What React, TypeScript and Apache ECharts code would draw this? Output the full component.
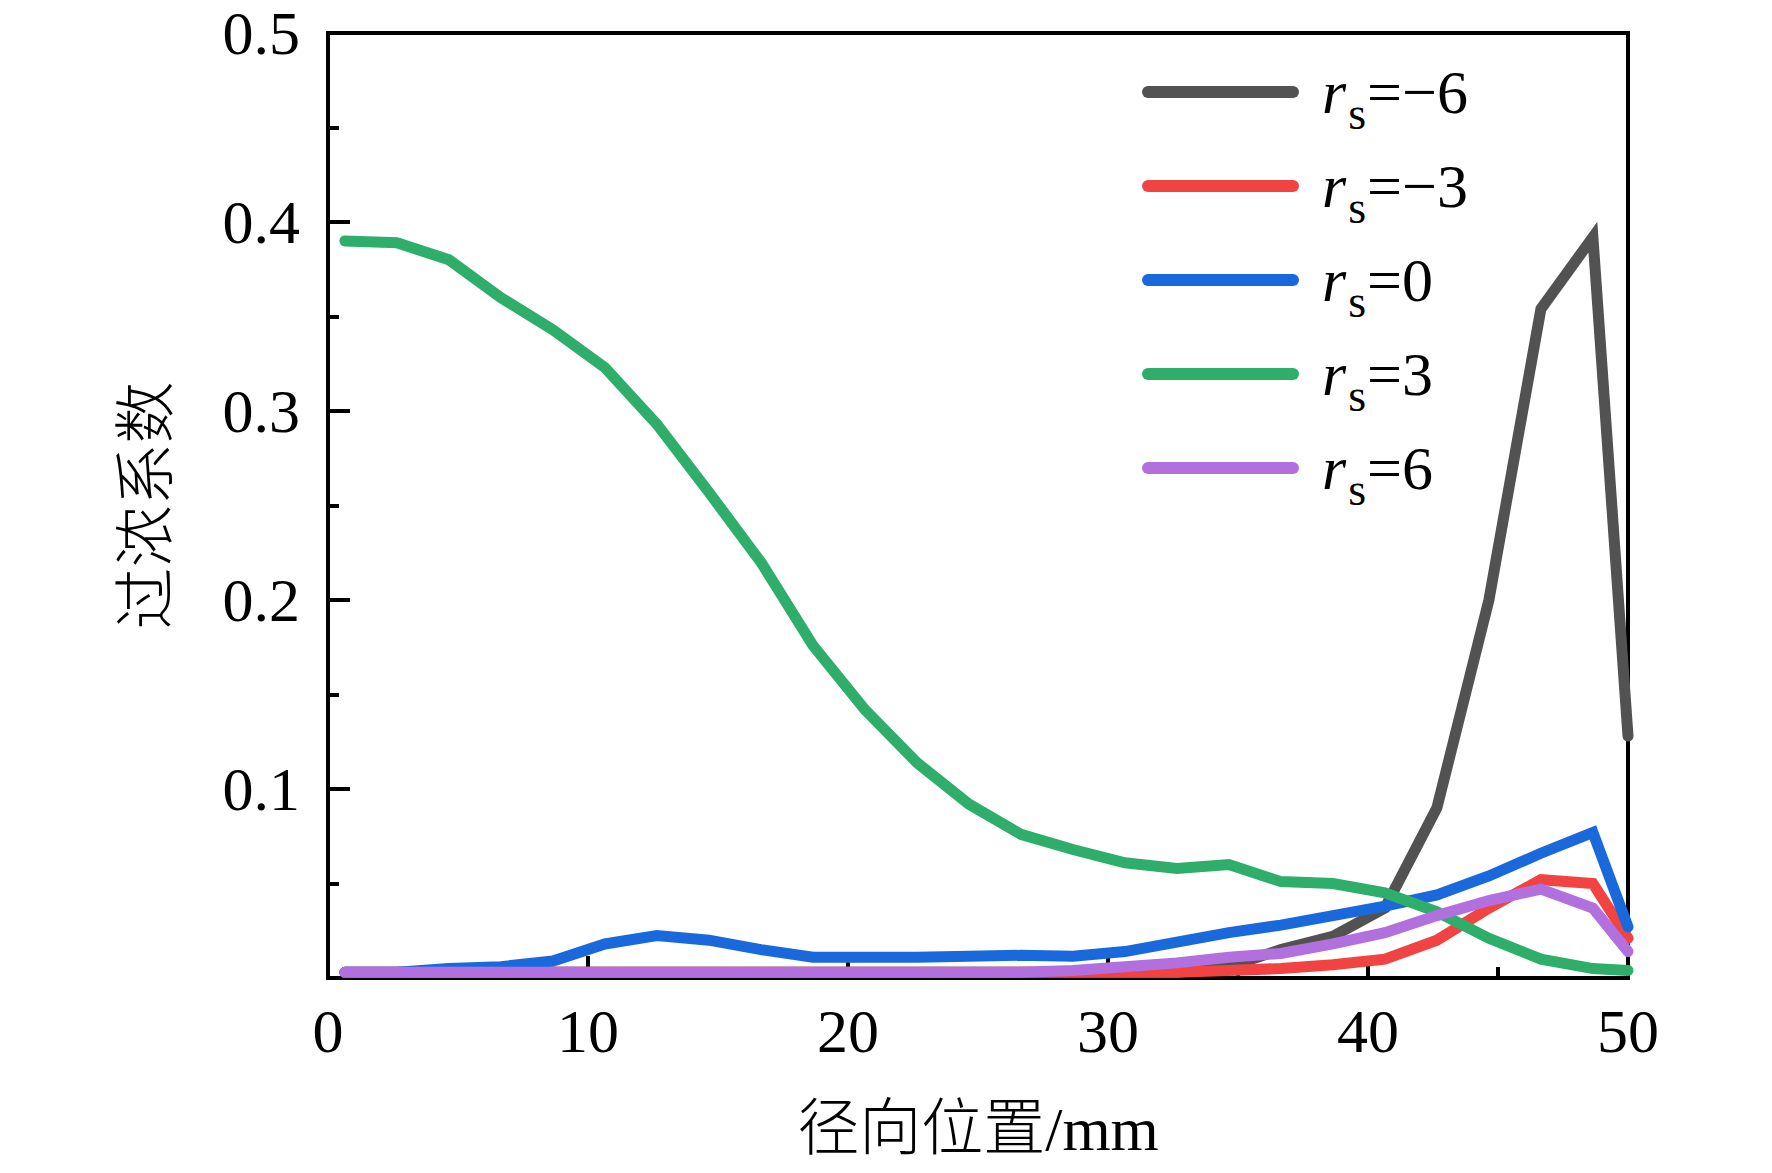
import React, { useEffect, useRef } from "react";
import * as echarts from "echarts";

// radial position (mm)
const radialPos = [0.65, 2.65, 4.65, 6.65, 8.65, 10.65, 12.65, 14.65, 16.65, 18.65, 20.65, 22.65, 24.65, 26.65, 28.65, 30.65, 32.65, 34.65, 36.65, 38.65, 40.65, 42.65, 44.65, 46.65, 48.65, 50];

const rsM6 = [0.003, 0.003, 0.003, 0.003, 0.003, 0.003, 0.003, 0.003, 0.003, 0.003, 0.003, 0.003, 0.003, 0.003, 0.003, 0.003, 0.003, 0.006, 0.015, 0.022, 0.037, 0.090, 0.200, 0.354, 0.392, 0.128];
const rsM3 = [0.003, 0.003, 0.003, 0.003, 0.003, 0.003, 0.003, 0.003, 0.003, 0.003, 0.003, 0.003, 0.003, 0.003, 0.003, 0.003, 0.003, 0.004, 0.005, 0.007, 0.010, 0.020, 0.037, 0.052, 0.050, 0.021];
const rs0 = [0.003, 0.003, 0.005, 0.006, 0.009, 0.018, 0.0225, 0.020, 0.015, 0.011, 0.011, 0.011, 0.0115, 0.012, 0.0115, 0.014, 0.019, 0.024, 0.028, 0.033, 0.038, 0.044, 0.054, 0.066, 0.077, 0.027];
const rs3 = [0.390, 0.389, 0.380, 0.360, 0.343, 0.323, 0.293, 0.257, 0.220, 0.176, 0.142, 0.114, 0.092, 0.076, 0.068, 0.061, 0.058, 0.060, 0.051, 0.050, 0.045, 0.035, 0.021, 0.010, 0.005, 0.004];
const rs6 = [0.003, 0.003, 0.003, 0.003, 0.003, 0.003, 0.003, 0.003, 0.003, 0.003, 0.003, 0.003, 0.003, 0.003, 0.004, 0.006, 0.008, 0.011, 0.013, 0.018, 0.024, 0.033, 0.041, 0.047, 0.037, 0.014];

const seriesNames = ["-6", "-3", "0", "3", "6"];
const seriesValues = [rsM6, rsM3, rs0, rs3, rs6];
const seriesColors = ["#525252", "#f24343", "#1a69dc", "#2fae6b", "#b270de"];

const xTitle = "径向位置/mm";
const yTitle = "过浓系数";

const SERIF = "'Liberation Serif', 'Times New Roman', serif";
const CJK = "'Liberation Serif', 'Noto Sans CJK SC', sans-serif";

export default function App() {
  const ref = useRef<HTMLDivElement>(null);

  useEffect(() => {
    document.body.style.margin = "0";
    if (!ref.current) return;
    const chart = echarts.init(ref.current, undefined, { renderer: "svg" });

    const series = seriesNames.map((name, i) => ({
      name,
      type: "line",
      data: radialPos.map((x, j) => [x, seriesValues[i][j]]),
      symbol: "none",
      smooth: false,
      lineStyle: { color: seriesColors[i], width: 11, cap: "round", join: "miter" },
      itemStyle: { color: seriesColors[i] },
      z: 2 + i,
    }));

    chart.setOption({
      animation: false,
      backgroundColor: "#ffffff",
      grid: {
        left: 328,
        right: 144,
        top: 33,
        bottom: 195,
        show: true,
        borderColor: "#000",
        borderWidth: 4,
        backgroundColor: "transparent",
      },
      legend: {
        orient: "vertical",
        left: 1142,
        top: 61,
        padding: 0,
        itemGap: 19,
        itemWidth: 157,
        itemHeight: 12,
        icon: "path://M6,0H151A6,6,0,0,1,151,12H6A6,6,0,0,1,6,0Z",
        data: seriesNames,
        formatter: (name: string) => `{r|r}{s|s}{n|=${name.replace("-", "−")}}`,
        textStyle: {
          fontFamily: SERIF,
          fontSize: 62,
          color: "#000",
          rich: {
            r: { fontFamily: SERIF, fontSize: 62, fontStyle: "italic", color: "#000", lineHeight: 62, padding: [0, 2, 0, 18] },
            s: { fontFamily: SERIF, fontSize: 46, color: "#000", lineHeight: 20, verticalAlign: "top", padding: [29, 1, 0, 0] },
            n: { fontFamily: SERIF, fontSize: 62, color: "#000", lineHeight: 62 },
          },
        },
      },
      xAxis: {
        type: "value",
        min: 0,
        max: 50,
        interval: 10,
        name: xTitle,
        nameLocation: "middle",
        nameGap: 120,
        nameTextStyle: { fontFamily: CJK, fontSize: 62, fontWeight: 300, color: "#000" },
        axisLine: { show: true, lineStyle: { color: "#000", width: 4 } },
        axisTick: { show: true, inside: true, length: 22, lineStyle: { color: "#000", width: 4 } },
        minorTick: { show: true, splitNumber: 2, length: 11, lineStyle: { color: "#000", width: 4 } },
        splitLine: { show: false },
        axisLabel: {
          margin: 22,
          fontFamily: SERIF,
          fontSize: 62,
          color: "#000",
          formatter: (v: number) => String(v),
        },
      },
      yAxis: {
        type: "value",
        min: 0,
        max: 0.5,
        interval: 0.1,
        name: yTitle,
        nameLocation: "middle",
        nameGap: 150,
        nameRotate: 90,
        nameTextStyle: { fontFamily: CJK, fontSize: 62, fontWeight: 300, color: "#000" },
        axisLine: { show: true, lineStyle: { color: "#000", width: 4 } },
        axisTick: { show: true, inside: true, length: 22, lineStyle: { color: "#000", width: 4 } },
        minorTick: { show: true, splitNumber: 2, length: 11, lineStyle: { color: "#000", width: 4 } },
        splitLine: { show: false },
        axisLabel: {
          margin: 28,
          fontFamily: SERIF,
          fontSize: 62,
          color: "#000",
          formatter: (v: number) => (v === 0 ? "" : v.toFixed(1)),
        },
      },
      series,
    });

    return () => {
      chart.dispose();
    };
  }, []);

  return <div ref={ref} style={{ width: 1772, height: 1173, background: "#fff" }} />;
}
